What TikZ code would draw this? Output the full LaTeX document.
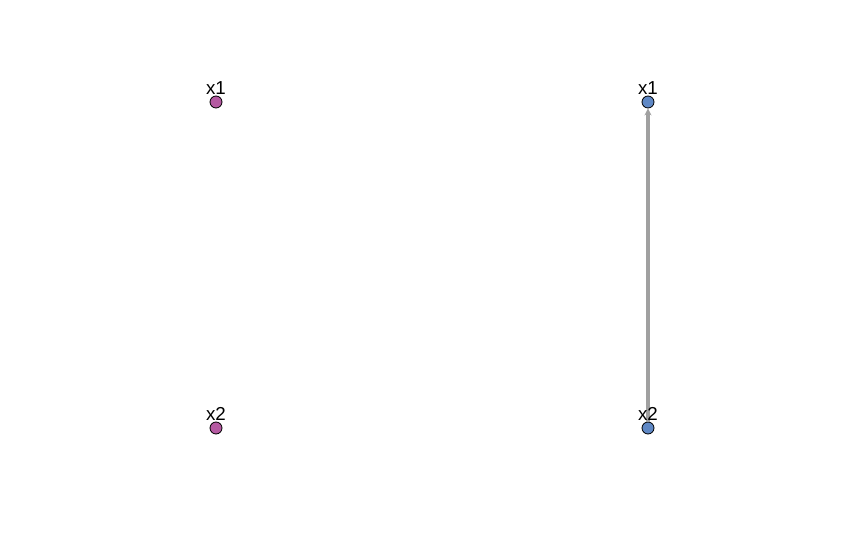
\documentclass[tikz,border=0pt]{standalone}
\usepackage{fontspec}
\setmainfont{Liberation Sans}
\usetikzlibrary{positioning,arrows.meta}
\definecolor{vpink}{HTML}{B55AA2}
\definecolor{vblue}{HTML}{5F88C5}
\definecolor{egray}{HTML}{A0A0A0}
\begin{document}
\begin{tikzpicture}[x=0.03cm,y=-0.03cm,>={Stealth[length=6pt,width=6pt]},
 every node/.style={font=\fontsize{16}{16}\selectfont},
 vx/.style={circle,draw=black,line width=.7pt,minimum size=12*0.03cm,inner sep=0pt},
 lb/.style={inner sep=0pt}]
\useasboundingbox (0,0) rectangle (864,533);
\node[vx,fill=vpink] (L-x1) at (216,102) {};
\node[vx,fill=vpink] (L-x2) at (216,428) {};
\node[vx,fill=vblue] (R-x1) at (648,102) {};
\node[vx,fill=vblue] (R-x2) at (648,428) {};
\draw[->,egray,line width=3.6pt] (R-x2) -- (R-x1);
\node[lb] at (216,88) {x1};\node[lb] at (216,414) {x2};
\node[lb] at (648,88) {x1};\node[lb] at (648,414) {x2};
\end{tikzpicture}
\end{document}
